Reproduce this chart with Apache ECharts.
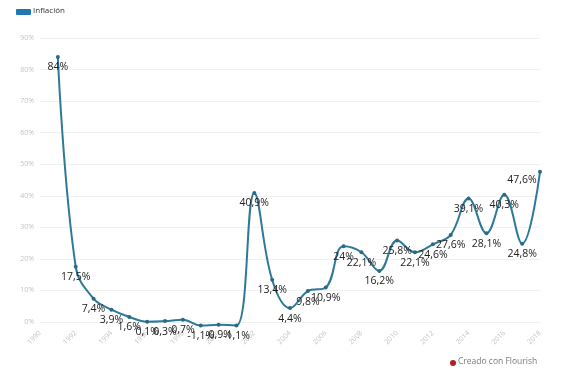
<!DOCTYPE html>
<html><head><meta charset="utf-8">
<script src="https://cdn.jsdelivr.net/npm/echarts@6/dist/echarts.min.js"></script>
<style>html,body{margin:0;padding:0;background:#fff}#c{width:568px;height:373px}</style>
</head><body><div id="c"></div>
<script>
const years = [1991,1992,1993,1994,1995,1996,1997,1998,1999,2000,2001,2002,2003,2004,2005,2006,2007,2008,2009,2010,2011,2012,2013,2014,2015,2016,2017,2018];
const inflation = [84,17.5,7.4,3.9,1.6,0.1,0.3,0.7,-1.1,-0.9,-1.1,40.9,13.4,4.4,9.8,10.9,24,22.1,16.2,25.8,22.1,24.6,27.6,39.1,28.1,40.3,24.8,47.6];
const seriesName = 'Inflación';
const yTicks = [0,10,20,30,40,50,60,70,80,90];

const fmt = v => (String(v).replace('.', ',')) + '%';
const data = years.map((y, i) => {
  const item = { value: [y, inflation[i]] };
  if (i === years.length - 1) item.label = { offset: [-18, -2] };
  return item;
});

const chart = echarts.init(document.getElementById('c'));
chart.setOption({
  animation: false,
  textStyle: { fontFamily: 'Open Sans, sans-serif' },
  grid: { left: 40, right: 28, top: 38, bottom: 51 },
  xAxis: {
    type: 'value', min: 1990, max: 2018, interval: 2,
    axisLine: { show: false }, axisTick: { show: false }, splitLine: { show: false },
    axisLabel: { rotate: 45, color: '#c4c4c4', fontSize: 7, margin: 10, formatter: v => String(v) }
  },
  yAxis: {
    type: 'value', min: yTicks[0], max: yTicks[yTicks.length - 1], interval: 10,
    axisLine: { show: false }, axisTick: { show: false },
    splitLine: { lineStyle: { color: '#f0f0f0', width: 1 } },
    axisLabel: { color: '#c4c4c4', fontSize: 7, margin: 6, formatter: v => v + '%' }
  },
  series: [{
    name: seriesName, type: 'line', data: data, smooth: 0.4, clip: false,
    symbol: 'circle', symbolSize: 4,
    lineStyle: { color: '#2d7a98', width: 2 },
    itemStyle: { color: '#2a6a84' },
    label: { show: true, position: 'bottom', distance: 3, color: '#222', fontSize: 10.5,
      formatter: p => fmt(p.value[1]) }
  }],
  graphic: [
    { type: 'rect', left: 16, top: 9, shape: { width: 15, height: 6, r: 1 }, style: { fill: '#1f78b0' } },
    { type: 'text', left: 33, top: 7, style: { text: seriesName, fill: '#333', fontSize: 8, fontFamily: 'Open Sans, sans-serif' } },
    { type: 'circle', shape: { cx: 453, cy: 363, r: 3 }, style: { fill: '#b21f24' } },
    { type: 'text', left: 458, top: 357, style: { text: 'Creado con Flourish', fill: '#7a7a7a', fontSize: 8.5, fontFamily: 'Open Sans, sans-serif' } }
  ]
});
</script></body></html>
